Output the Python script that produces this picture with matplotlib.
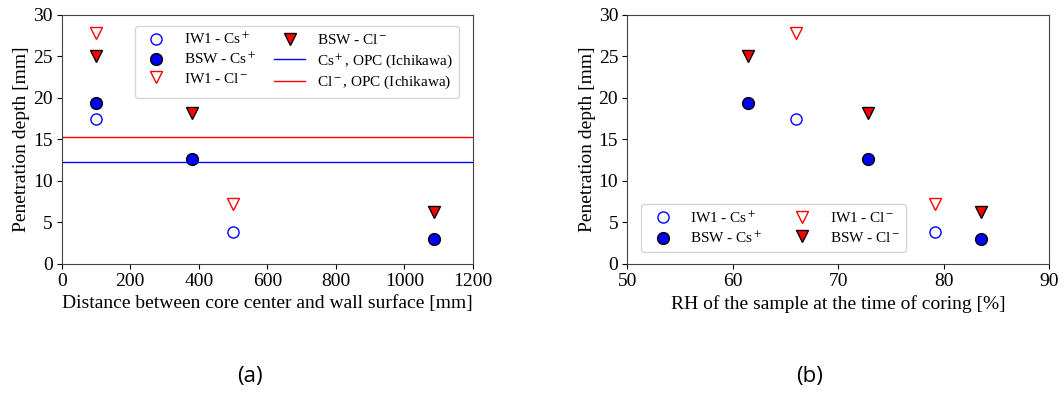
import numpy as np
import matplotlib
matplotlib.use('Agg')
import matplotlib.pyplot as plt

plt.rcParams['font.family'] = ['Liberation Serif', 'DejaVu Serif']
plt.rcParams['mathtext.fontset'] = 'stix'

# (a) 距离 [mm]
dist_iw1 = [100, 500]
dist_bsw = [100, 380, 1085]
# (b) RH [%]
rh_iw1 = [66.0, 79.2]
rh_bsw = [61.5, 72.8, 83.5]

# penetration depth [mm]
iw1_cs = [17.4, 3.8]
bsw_cs = [19.4, 12.6, 3.0]
iw1_cl = [27.8, 7.2]
bsw_cl = [25.0, 18.2, 6.2]

opc_cs = 12.2
opc_cl = 15.2

lab_iw1_cs = 'IW1 - Cs$^+$'
lab_bsw_cs = 'BSW - Cs$^+$'
lab_iw1_cl = 'IW1 - Cl$^-$'
lab_bsw_cl = 'BSW - Cl$^-$'

fig = plt.figure(figsize=(10.63, 3.94), dpi=100)
ax1 = fig.add_axes([0.058, 0.331, 0.387, 0.632])
ax2 = fig.add_axes([0.590, 0.331, 0.397, 0.632])


def draw_points(ax, x_iw1, x_bsw):
    h = {}
    h['a'], = ax.plot(x_iw1, iw1_cs, 'o', ms=8, mfc='none', mec='blue', mew=1.0, ls='none', label=lab_iw1_cs)
    h['b'], = ax.plot(x_bsw, bsw_cs, 'o', ms=8.5, mfc='blue', mec='black', mew=1.0, ls='none', label=lab_bsw_cs)
    h['c'], = ax.plot(x_iw1, iw1_cl, 'v', ms=8.5, mfc='none', mec='red', mew=1.0, ls='none', label=lab_iw1_cl)
    h['d'], = ax.plot(x_bsw, bsw_cl, 'v', ms=9, mfc='red', mec='black', mew=1.0, ls='none', label=lab_bsw_cl)
    return h


h1 = draw_points(ax1, dist_iw1, dist_bsw)
l_cs = ax1.axhline(opc_cs, color='blue', lw=1.0, label='Cs$^+$, OPC (Ichikawa)')
l_cl = ax1.axhline(opc_cl, color='red', lw=1.0, label='Cl$^-$, OPC (Ichikawa)')
ax1.set_xlim(0, 1200)
ax1.set_ylim(0, 30)
ax1.set_xlabel('Distance between core center and wall surface [mm]', fontsize=14, labelpad=4)
ax1.set_ylabel('Penetration depth [mm]', fontsize=14, labelpad=2)
ax1.legend(handles=[h1['a'], h1['b'], h1['c'], h1['d'], l_cs, l_cl], ncol=2,
           loc='upper right', fontsize=11, bbox_to_anchor=(0.985, 0.985),
           labelspacing=0.3, columnspacing=1.2)

h2 = draw_points(ax2, rh_iw1, rh_bsw)
ax2.set_xlim(50, 90)
ax2.set_xticks([50, 60, 70, 80, 90])
ax2.set_ylim(0, 30)
ax2.set_xlabel('RH of the sample at the time of coring [%]', fontsize=14, labelpad=4)
ax2.set_ylabel('Penetration depth [mm]', fontsize=14, labelpad=2)
ax2.legend(handles=[h2['a'], h2['b'], h2['c'], h2['d']], ncol=2,
           loc='lower left', fontsize=11, bbox_to_anchor=(0.015, 0.015),
           labelspacing=0.35, columnspacing=1.6)

for ax in (ax1, ax2):
    ax.tick_params(labelsize=14, pad=3)
    for s in ax.spines.values():
        s.set_color('#444444')

fig.text(0.235, 0.03, '(a)', fontsize=16, family='Open Sans', ha='center')
fig.text(0.762, 0.03, '(b)', fontsize=16, family='Open Sans', ha='center')

plt.savefig('out.png')
